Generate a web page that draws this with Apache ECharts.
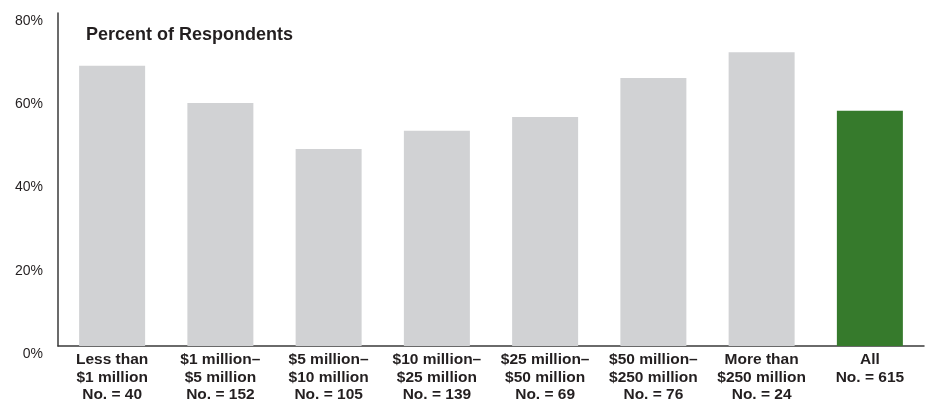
<!DOCTYPE html>
<html>
<head>
<meta charset="utf-8">
<script src="https://cdn.jsdelivr.net/npm/echarts@6/dist/echarts.min.js"></script>
<style>
html,body{margin:0;padding:0;background:#fff;}
#chart{width:927px;height:406px;}
</style>
</head>
<body>
<div id="chart"></div>
<script>
const categories = [
  "Less than\n$1 million\nNo. = 40",
  "$1 million–\n$5 million\nNo. = 152",
  "$5 million–\n$10 million\nNo. = 105",
  "$10 million–\n$25 million\nNo. = 139",
  "$25 million–\n$50 million\nNo. = 69",
  "$50 million–\n$250 million\nNo. = 76",
  "More than\n$250 million\nNo. = 24",
  "All\nNo. = 615"
];
const values = [67.3, 58.4, 47.3, 51.7, 55.0, 64.4, 70.6, 56.5];
const yTicks = [0, 20, 40, 60, 80];
const titleText = "Percent of Respondents";

const GRAY = "#d1d2d4";
const GREEN = "#367a2c";
const FONT = "Liberation Sans";

const chart = echarts.init(document.getElementById('chart'));
chart.setOption({
  animation: false,
  backgroundColor: '#fff',
  title: {
    text: titleText,
    left: 81, top: 21,
    textStyle: { fontFamily: FONT, fontSize: 18, fontWeight: 'bold', color: '#231f20' }
  },
  grid: { left: 58, right: 3, top: 13, bottom: 60 },
  xAxis: {
    type: 'category',
    data: categories,
    axisLine: { show: true, lineStyle: { color: '#3a3a3a', width: 1.5 } },
    axisTick: { show: false },
    axisLabel: {
      interval: 0, margin: 5,
      fontFamily: FONT, fontSize: 15.5, fontWeight: 'bold', color: '#231f20',
      lineHeight: 17.5, verticalAlign: 'top'
    }
  },
  yAxis: {
    type: 'value',
    min: yTicks[0], max: yTicks[yTicks.length - 1], interval: 20,
    axisLine: { show: true, lineStyle: { color: '#3a3a3a', width: 1.5 } },
    axisTick: { show: false },
    splitLine: { show: false },
    axisLabel: {
      margin: 15,
      fontFamily: FONT, fontSize: 14, color: '#231f20',
      verticalAlign: 'top', padding: [1, 0, 0, 0],
      formatter: v => v + '%'
    }
  },
  series: [{
    type: 'bar',
    barWidth: 66,
    data: values.map((v, i) => ({
      value: v,
      itemStyle: { color: i === values.length - 1 ? GREEN : GRAY }
    }))
  }]
});
</script>
</body>
</html>
